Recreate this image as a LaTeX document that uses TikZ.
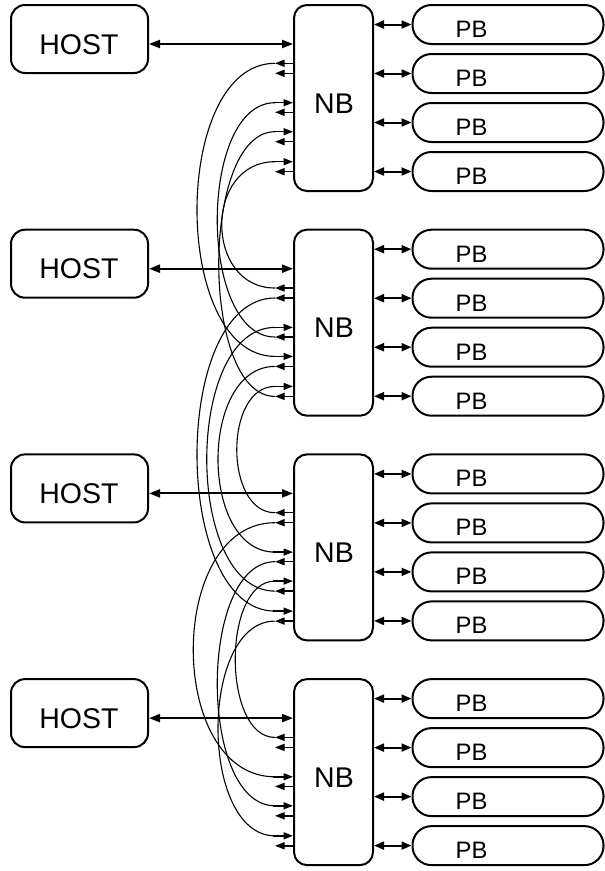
\documentclass[tikz,border=0pt]{standalone}
\usepackage{fontspec}
\setmainfont{Liberation Sans}
\usetikzlibrary{arrows.meta}
\begin{document}
\begin{tikzpicture}[x=1pt,y=-1pt,
  hostbox/.style={draw, line width=2pt, rounded corners=14pt, minimum width=137pt, minimum height=68pt, inner sep=0pt},
  nbbox/.style={draw, line width=2pt, rounded corners=13pt, minimum width=79pt, minimum height=186pt, inner sep=0pt},
  pbbox/.style={draw, line width=2pt, rounded corners=19pt, minimum width=191pt, minimum height=39pt, inner sep=0pt},
  bigtxt/.style={font=\fontsize{28.5}{31}\selectfont, anchor=base, inner sep=0pt},
  pbtxt/.style={font=\fontsize{23.8}{26}\selectfont, anchor=base, inner sep=0pt},
  hostlink/.style={line width=2pt, {Triangle[length=11pt,width=8pt]}-{Triangle[length=11pt,width=8pt]}},
  pblink/.style={line width=2pt, {Triangle[length=10pt,width=8pt]}-{Triangle[length=10pt,width=8pt]}},
  stub/.style={line width=1.4pt, -{Triangle[length=9.5pt,width=7pt]}},
  curve/.style={line width=1.1pt}
]
\fill[white] (0,0) rectangle (605,871);
\useasboundingbox (0,0) rectangle (605,871);

\foreach \k/\off in {1/0, 2/224.7, 3/449.4, 4/674.1} {
  \node[hostbox] (host\k) at (79.5, {39+\off}) {};
  \node[bigtxt] (hostt\k) at (79, {54+\off}) {HOST};
  \node[nbbox] (nb\k) at (333.5, {98+\off}) {};
  \node[bigtxt] (nbt\k) at (334, {113+\off}) {NB};
  \coordinate (hl\k) at ([yshift=-5pt]host\k.east);
  \draw[hostlink] (hl\k) -- (hl\k -| nb\k.west);
  \foreach \j/\dy in {1/24.5, 2/73.5, 3/122.5, 4/171.5} {
    \node[pbbox] (pb\k-\j) at (508, {\dy+\off}) {};
    \node[pbtxt] (pbt\k-\j) at (471.5, {\dy+12.8+\off}) {PB};
    \draw[pblink] (nb\k.east |- pb\k-\j.center) -- (pb\k-\j.west);
  }
  \foreach \i/\py in {0/63.3,1/73.3,2/102.7,3/112.3,4/131.7,5/141.7,6/161.7,7/171.7} {
    \coordinate (p\k-\i) at (275, {\py+\off});
  }
  \foreach \i in {0,1,3,5,7} {
    \draw[stub] (nb\k.west |- p\k-\i) -- (p\k-\i);
  }
  \foreach \i in {2,4,6} {
    \draw[stub] ([xshift=-2pt]p\k-\i) -- (nb\k.west |- p\k-\i);
  }
}

% NB1 -- NB2
\draw[curve] (p1-0) .. controls +(-104,0) and +(-104,0) .. (p2-4);
\draw[curve] (p1-6) .. controls +(-71,0) and +(-71,0) .. (p2-0);
\draw[curve] (p1-2) .. controls +(-77,0) and +(-77,0) .. (p2-3);
\draw[curve] (p1-4) .. controls +(-75,0) and +(-75,0) .. (p2-7);
% NB2 -- NB3
\draw[curve] (p2-1) .. controls +(-104,0) and +(-104,0) .. (p3-6);
\draw[curve] (p2-2) .. controls +(-91,0) and +(-91,0) .. (p3-5);
\draw[curve] (p2-5) .. controls +(-76,0) and +(-76,0) .. (p3-2);
\draw[curve] (p2-6) .. controls +(-51,0) and +(-51,0) .. (p3-0);
% NB3 -- NB4
\draw[curve] (p3-1) .. controls +(-109,0) and +(-109,0) .. (p4-2);
\draw[curve] (p3-3) .. controls +(-77,0) and +(-77,0) .. (p4-4);
\draw[curve] (p3-7) .. controls +(-76,0) and +(-76,0) .. (p4-6);
\draw[curve] (p3-4) .. controls +(-53,0) and +(-53,0) .. (p4-0);
\end{tikzpicture}
\end{document}
